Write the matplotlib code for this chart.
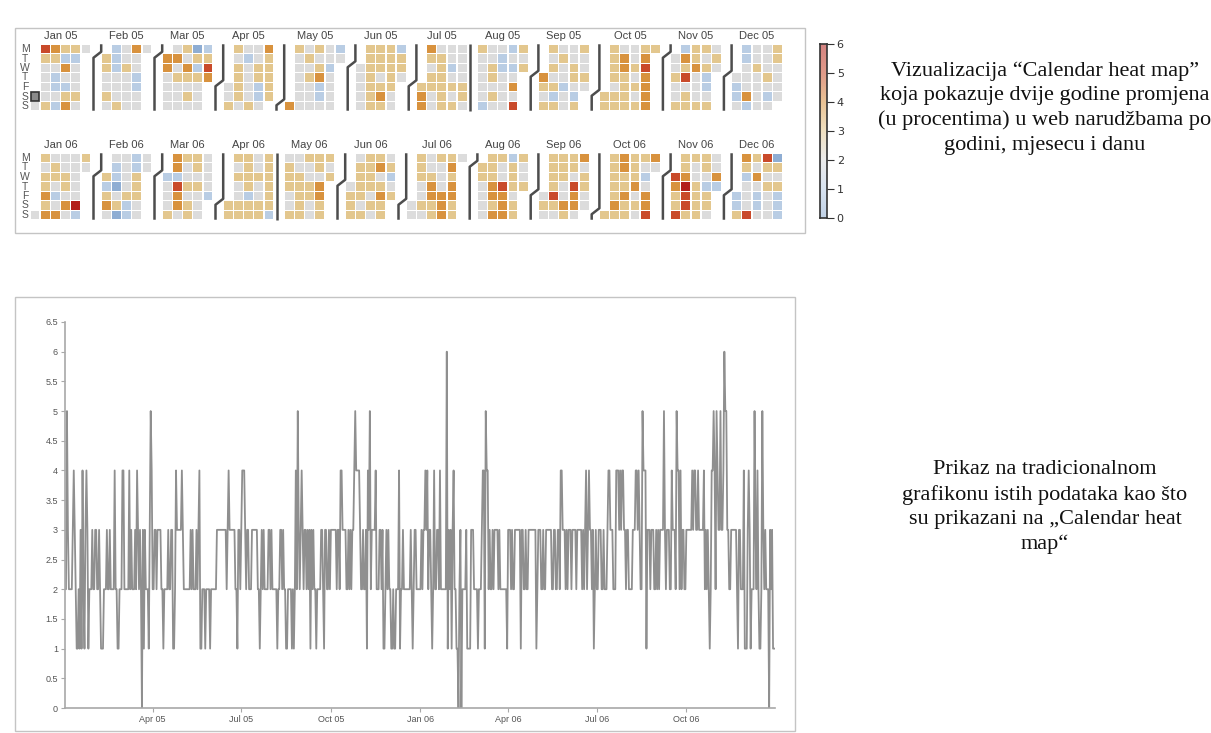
import numpy as np
import pandas as pd
import matplotlib
matplotlib.use('Agg')
import matplotlib.pyplot as plt
import matplotlib.dates as mdates
from matplotlib.colors import ListedColormap, LinearSegmentedColormap
from matplotlib.patches import Rectangle

# daily change values (0-6), one string per month, day 1 .. last day
y2005 = [
    "2253222234" "3211213142" "13431222322",
    "3322321112" "2232232222" "42211222",
    "4422222423" "2223243232" "03132221354",
    "2233233332" "2122223223" "3112433333",
    "4322222223" "2322232341" "12221222212",
    "2222233333" "3333323433" "3333221332",
    "3444323322" "2333333221" "23232222332",
    "3222221223" "3232211222" "21212425323",
    "4323323231" "3232212222" "3321332232",
    "3333332332" "4433332232" "32334544443",
    "2232231435" "2333342223" "3231123232",
    "2112112224" "1223222222" "23212332222",
]
y2006 = [
    "2323343423" "3212422332" "42222226132",
    "3134221102" "3022223111" "13332222",
    "1222344154" "4232232333" "32322222221",
    "3332322333" "3331332232" "2333333331",
    "2333223223" "3333322332" "23324433323",
    "2333233332" "3333323234" "2343323123",
    "2233322322" "2344333222" "44434344332",
    "3322223334" "4343225444" "13332333223",
    "2323333532" "3332243332" "5442423322",
    "3333334344" "3343333342" "32321244542",
    "5433533465" "5332233333" "3213322241",
    "1134312225" "3242112532" "32220323111",
]
years = [2005, 2006]
month_names = ['Jan', 'Feb', 'Mar', 'Apr', 'May', 'Jun',
               'Jul', 'Aug', 'Sep', 'Oct', 'Nov', 'Dec']
weekday_labels = ['M', 'T', 'W', 'T', 'F', 'S', 'S']
highlight_day = pd.Timestamp('2005-01-01')
cbar_ticks = [0, 1, 2, 3, 4, 5, 6]
y_ticks = [0, 0.5, 1, 1.5, 2, 2.5, 3, 3.5, 4, 4.5, 5, 5.5, 6, 6.5]
x_ticks = ['2005-04-01', '2005-07-01', '2005-10-01', '2006-01-01',
           '2006-04-01', '2006-07-01', '2006-10-01']

caption_top = ("Vizualizacija \u201cCalendar heat map\u201d\n"
               "koja pokazuje dvije godine promjena\n"
               "(u procentima) u web narudžbama po\n"
               "godini, mjesecu i danu")
caption_bottom = ("Prikaz na tradicionalnom\n"
                  "grafikonu istih podataka kao što\n"
                  "su prikazani na \u201eCalendar heat\n"
                  "map\u201c")

cell_colors = ['#8eadd3', '#b9cde4', '#dcdcdc', '#e3c78e',
               '#d8923e', '#c94a2a', '#b21e1a']
cell_cmap = ListedColormap(cell_colors)
bar_cmap = LinearSegmentedColormap.from_list('bar', cell_colors)

W, H = 1211, 733
fig = plt.figure(figsize=(W / 100, H / 100), dpi=100)
ov = fig.add_axes([0, 0, 1, 1], zorder=0)
ov.set_xlim(0, W)
ov.set_ylim(H, 0)
ov.axis('off')

sans = ['Liberation Sans', 'DejaVu Sans']
serif = ['Liberation Serif', 'DejaVu Serif']

# ---- calendar heat map ----
ov.add_patch(Rectangle((15, 28), 790, 205, fill=False, ec='#c4c4c4', lw=1))
px, py = 10.2, 9.5
cw, ch = 8.8, 8.3
gap = 10
row_top = {2005: 49, 2006: 158}

for year, months in zip(years, [y2005, y2006]):
    top = row_top[year]
    for r, lab in enumerate(weekday_labels):
        ov.text(25, top + r * py, lab, ha='center', va='center',
                fontsize=7.5, color='#555', family=sans)
    x0 = 35
    prev_last = None
    for m, vals in enumerate(months):
        first = pd.Timestamp(year, m + 1, 1)
        assert len(vals) == first.days_in_month
        d0 = first.weekday()
        ncols = (d0 + len(vals) - 1) // 7 + 1
        for i, c in enumerate(vals):
            col, row = divmod(d0 + i, 7)
            cx, cy = x0 + col * px, top + row * py
            fc = cell_cmap(int(c))
            ec, lw = 'none', 0
            if first + pd.Timedelta(days=i) == highlight_day:
                fc, ec, lw = '#8a8a8a', '#333', 1.2
            ov.add_patch(Rectangle((cx - cw / 2, cy - ch / 2), cw, ch,
                                   fc=fc, ec=ec, lw=lw))
        if prev_last is not None:
            xa, xb = x0 - 5, prev_last + 7.5
            y_top, y_bot = top - py / 2, top + 6 * py + py / 2
            yb = top + (d0 - 0.5) * py
            if d0 == 0:
                xs, ys = [xb, xb], [y_top, y_bot]
            else:
                xs = [xa, xa, xb, xb]
                ys = [y_top, yb - 2, yb + 4, y_bot]
            ov.plot(xs, ys, color='#4d4d4d', lw=1.8, solid_capstyle='butt')
        ov.text(x0 + (ncols - 1) * px / 2, top - 13,
                f"{month_names[m]} {str(year)[2:]}", ha='center', va='center',
                fontsize=8, color='#444', family=sans)
        prev_last = x0 + (ncols - 1) * px
        x0 += ncols * px + gap

# colour bar
cax = fig.add_axes([820 / W, (H - 218) / H, 7 / W, 174 / H])
grad = np.linspace(0, 6, 200).reshape(-1, 1)
cax.imshow(grad, aspect='auto', origin='lower', cmap=bar_cmap, alpha=0.55,
           extent=[0, 1, 0, 6])
cax.set_xticks([])
cax.yaxis.tick_right()
cax.set_yticks(cbar_ticks)
cax.tick_params(axis='y', length=5, width=0.8, color='#333', labelsize=8,
                labelcolor='#333', pad=2)
for s in cax.spines.values():
    s.set_color('#333')
    s.set_linewidth(1.2)

ov.text(1045, 108, caption_top, ha='center', va='center', fontsize=16,
        family=serif, color='#111', linespacing=1.38)

# ---- line chart ----
ov.add_patch(Rectangle((15, 297), 780, 434, fill=False, ec='#c4c4c4', lw=1))
values = np.array([int(c) for c in ''.join(y2005 + y2006)])
dates = pd.date_range('2005-01-01', '2006-12-31', freq='D')

ax = fig.add_axes([65 / W, (H - 708) / H, 710 / W, 386 / H], zorder=1)
ax.set_facecolor('none')
ax.plot(dates, values, color='#8f8f8f', lw=1.3)
ax.set_xlim(dates[0], dates[-1])
ax.set_ylim(0, 6.5)
ax.set_yticks(y_ticks)
ax.set_yticklabels([f"{t:g}" for t in y_ticks])
ax.set_xticks(pd.to_datetime(x_ticks))
ax.xaxis.set_major_formatter(mdates.DateFormatter('%b %y'))
for s in ['top', 'right']:
    ax.spines[s].set_visible(False)
for s in ['left', 'bottom']:
    ax.spines[s].set_color('#a8a8a8')
    ax.spines[s].set_linewidth(1.2)
ax.tick_params(length=3, color='#a8a8a8', labelsize=6.5, labelcolor='#555',
               pad=2)
for t in ax.get_xticklabels() + ax.get_yticklabels():
    t.set_family(sans)

ov.text(1045, 507, caption_bottom, ha='center', va='center', fontsize=16,
        family=serif, color='#111', linespacing=1.38)

fig.savefig('out.png', dpi=100)
